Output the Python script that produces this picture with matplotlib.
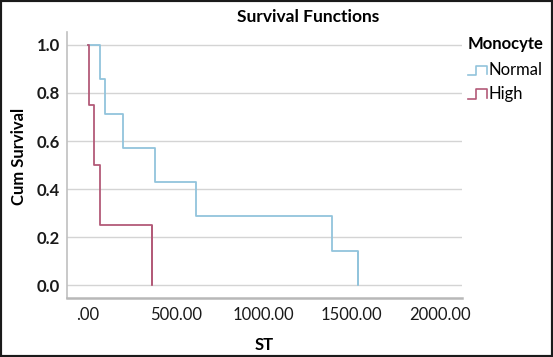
import matplotlib
matplotlib.use('Agg')
import matplotlib.pyplot as plt
from matplotlib.lines import Line2D
from matplotlib.legend_handler import HandlerLine2D
from matplotlib.patches import Rectangle

plt.rcParams['font.family'] = ['Lato', 'DejaVu Sans']

# survival data
normal_t = [0, 72, 100, 199, 382, 615, 1388, 1536]
normal_s = [1.0, 0.857, 0.714, 0.571, 0.429, 0.286, 0.143, 0.0]
high_t = [0, 5, 38, 72, 362]
high_s = [1.0, 0.75, 0.5, 0.25, 0.0]

x_ticks = [0, 500, 1000, 1500, 2000]
x_labels = ['.00', '500.00', '1000.00', '1500.00', '2000.00']
y_ticks = [0.0, 0.2, 0.4, 0.6, 0.8, 1.0]

blue = '#92c4dc'
red = '#b35a78'


class StepHandler(HandlerLine2D):
    # legend symbol drawn as a small step, like SPSS
    def create_artists(self, legend, orig_handle, xdescent, ydescent,
                       width, height, fontsize, trans):
        w = width
        xs = [-xdescent, -xdescent + w * 0.4, -xdescent + w * 0.4,
              -xdescent + w, -xdescent + w]
        ys = [0.0, 0.0, 0.8 * height, 0.8 * height, 0.05 * height]
        ys = [y - ydescent for y in ys]
        ln = Line2D(xs, ys, color=orig_handle.get_color(), lw=1.2)
        ln.set_transform(trans)
        return [ln]


fig = plt.figure(figsize=(5.53, 3.57), dpi=100)
ax = fig.add_axes([66.7 / 553, 1 - 298.3 / 357, (461.7 - 66.7) / 553, (298.3 - 32) / 357])

ax.step(normal_t, normal_s, where='post', color=blue, lw=1.3, label='Normal')
ax.step(high_t, high_s, where='post', color=red, lw=1.3, label='High')
ax.vlines(normal_t[-1], 0, normal_s[-2], color=blue, lw=1.3)
ax.vlines(high_t[-1], 0, high_s[-2], color=red, lw=1.3)

ax.set_xlim(-120, 2125)
ax.set_ylim(-0.055, 1.054)
ax.set_xticks(x_ticks)
ax.set_xticklabels(x_labels)
ax.set_yticks(y_ticks)
ax.set_yticklabels([f'{v:.1f}' for v in y_ticks], fontweight='bold')
ax.tick_params(length=0, labelsize=12, colors='#1a1a1a', pad=6)
ax.tick_params(axis='y', pad=5)
ax.grid(axis='y', color='#d4d4d4', lw=1.0)
ax.set_axisbelow(True)
for s in ['top', 'right']:
    ax.spines[s].set_visible(False)
ax.spines['left'].set_color('#c0c0c0')
ax.spines['left'].set_linewidth(1.2)
ax.spines['bottom'].set_color('#b8b8b8')
ax.spines['bottom'].set_linewidth(1.8)

ax.set_xlabel('ST', fontsize=12, fontweight='bold', labelpad=10)
fig.text(19 / 553, 1 - 156 / 357, 'Cum Survival', rotation=90, fontsize=12,
         fontweight='bold', ha='center', va='center')
fig.text(308 / 553, 1 - 17 / 357, 'Survival Functions', fontsize=12.5,
         fontweight='bold', ha='center', va='center')

# legend title as its own text, SPSS leaves a bigger gap under it
fig.text(468 / 553, 1 - 44 / 357, 'Monocyte', fontsize=12, fontweight='bold',
         ha='left', va='center')
leg = fig.legend(handles=ax.get_lines()[:2], labels=['Normal', 'High'],
                 loc='upper left',
                 bbox_to_anchor=(468 / 553, 1 - 62 / 357), frameon=False,
                 borderpad=0, borderaxespad=0,
                 fontsize=12, handler_map={Line2D: StepHandler()},
                 handlelength=1.15, handletextpad=0.05, labelspacing=0.45)

fig.patches.append(Rectangle((0, 0), 1, 1, transform=fig.transFigure,
                             fill=False, edgecolor='#1a1a1a', lw=3))

fig.savefig('out.png', dpi=100)
